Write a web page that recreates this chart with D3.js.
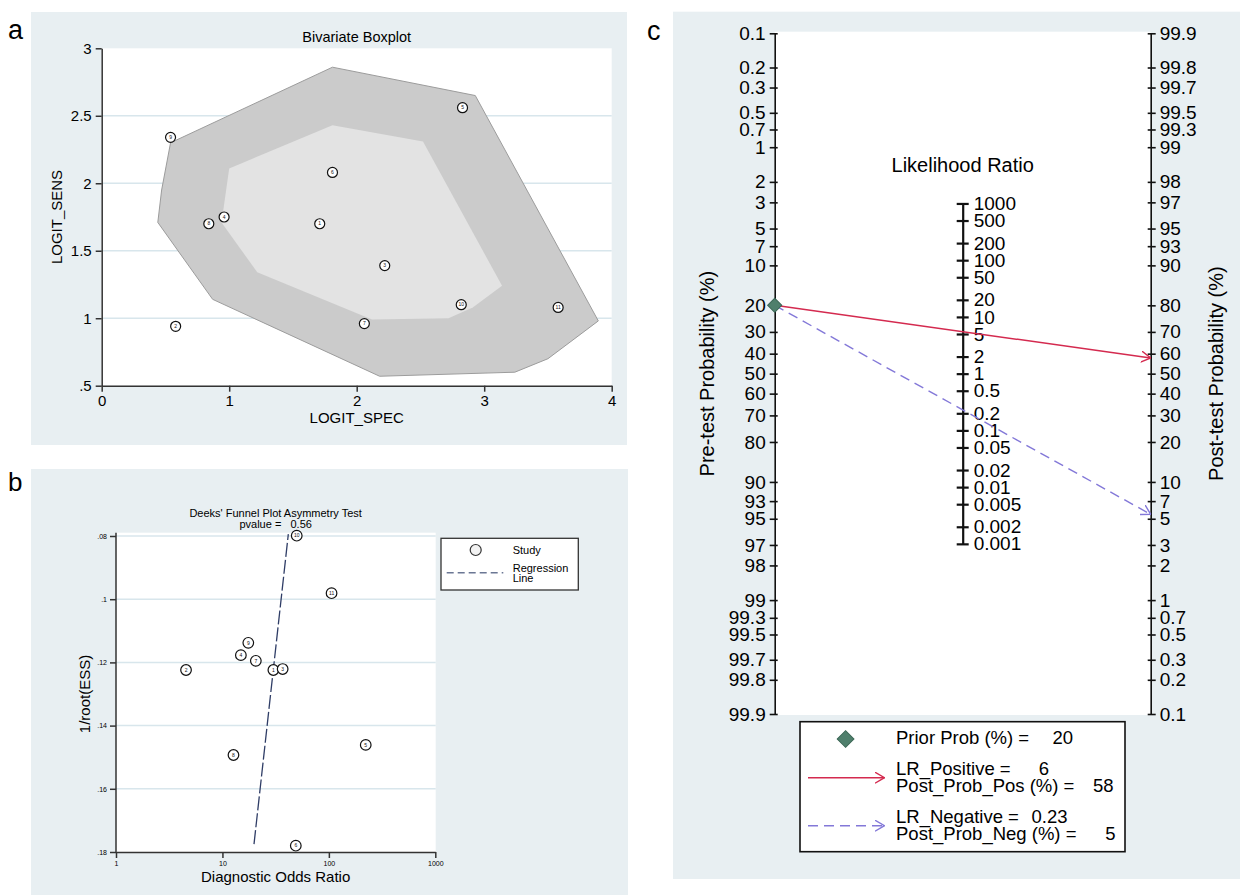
<!DOCTYPE html>
<html>
<head>
<meta charset="utf-8">
<script src="https://cdn.jsdelivr.net/npm/d3@7"></script>
<style>
body { margin: 0; background: #fff; }
svg { display: block; font-family: "Liberation Sans", Arial, sans-serif; }
</style>
</head>
<body>
<svg id="chart" width="1240" height="896"></svg>
<script>
// ---- panel a : bivariate boxplot
var studyIds = [1, 2, 3, 4, 5, 6, 7, 8, 9, 10, 11];
var logitSpec = [1.71, 0.58, 2.22, 0.96, 2.83, 1.81, 2.06, 0.84, 0.54, 2.82, 3.58];
var logitSens = [1.70, 0.94, 1.39, 1.75, 2.56, 2.08, 0.96, 1.70, 2.34, 1.10, 1.08];
var outerHullSpec = [0.54, 1.81, 2.93, 3.895, 3.50, 3.24, 2.18, 0.87, 0.44, 0.47];
var outerHullSens = [2.30, 2.86, 2.65, 0.98, 0.70, 0.60, 0.57, 1.14, 1.71, 1.95];
var innerHullSpec = [1.00, 1.81, 2.52, 3.14, 2.91, 2.72, 2.12, 1.22, 0.94];
var innerHullSens = [2.11, 2.43, 2.31, 1.24, 1.08, 1.00, 0.99, 1.34, 1.71];
var aXTicks = [0, 1, 2, 3, 4];
var aYTicks = [0.5, 1, 1.5, 2, 2.5, 3];
var aYTickLabels = [".5", "1", "1.5", "2", "2.5", "3"];

// ---- panel b : Deeks' funnel plot
var deeksDOR = [30.1, 4.55, 36.8, 14.9, 222, 48.9, 20.6, 12.7, 17.5, 49.9, 106];
var deeksInvRootESS = [0.1224, 0.1224, 0.1221, 0.1177, 0.1461, 0.178, 0.1195, 0.1493, 0.1138, 0.0799, 0.0981];
var regressionDOR = [19.8, 41.6];
var regressionInvRootESS = [0.1775, 0.0794];
var bXTicks = [1, 10, 100, 1000];
var bYTicks = [0.08, 0.1, 0.12, 0.14, 0.16, 0.18];
var bYTickLabels = [".08", ".1", ".12", ".14", ".16", ".18"];

// ---- panel c : Fagan nomogram
var priorProb = 20;
var lrPositive = 5.5;   // shown rounded as 6
var lrNegative = 0.23;
var preTicks = [0.1, 0.2, 0.3, 0.5, 0.7, 1, 2, 3, 5, 7, 10, 20, 30, 40, 50, 60, 70, 80, 90, 93, 95, 97, 98, 99, 99.3, 99.5, 99.7, 99.8, 99.9];
var postTicks = [99.9, 99.8, 99.7, 99.5, 99.3, 99, 98, 97, 95, 93, 90, 80, 70, 60, 50, 40, 30, 20, 10, 7, 5, 3, 2, 1, 0.7, 0.5, 0.3, 0.2, 0.1];
var lrTicks = [1000, 500, 200, 100, 50, 20, 10, 5, 2, 1, 0.5, 0.2, 0.1, 0.05, 0.02, 0.01, 0.005, 0.002, 0.001];

var svg = d3.select("#chart");
var panelBg = "#e8eff2";
var gridColor = "#d8e6ec";

showPanelA(svg);
showPanelB(svg);
showPanelC(svg);

function styleAxis(g, fontSize, color, width) {
    g.attr("font-family", null).attr("font-size", fontSize);
    g.select(".domain").attr("stroke", color).attr("stroke-width", width);
    g.selectAll(".tick line").attr("stroke", color).attr("stroke-width", width);
    g.selectAll(".tick text").attr("fill", "#000");
}

function showPanelA(svg) {
    var x = d3.scaleLinear().domain([0, 4]).range([101.7, 611.7]);
    var y = d3.scaleLinear().domain([0.5, 3]).range([385.7, 48.3]);
    var g = svg.append("g");

    g.append("rect").attr("x", 31).attr("y", 12).attr("width", 596).attr("height", 433).attr("fill", panelBg);
    g.append("rect").attr("x", x(0)).attr("y", y(3)).attr("width", x(4) - x(0)).attr("height", y(0.5) - y(3)).attr("fill", "#fff");

    g.selectAll("line.grid").data(aYTicks.slice(1, 5)).enter().append("line")
        .attr("class", "grid")
        .attr("x1", x(0)).attr("x2", x(4))
        .attr("y1", function (d) { return y(d); }).attr("y2", function (d) { return y(d); })
        .attr("stroke", gridColor).attr("stroke-width", 1.5);

    var hull = d3.line().x(function (d) { return x(d[0]); }).y(function (d) { return y(d[1]); }).curve(d3.curveLinearClosed);
    g.append("path").attr("d", hull(d3.zip(outerHullSpec, outerHullSens)))
        .attr("fill", "#cbcbcb").attr("stroke", "#9c9c9c").attr("stroke-width", 1);
    g.append("path").attr("d", hull(d3.zip(innerHullSpec, innerHullSens)))
        .attr("fill", "#e3e3e3");

    var pts = g.selectAll("g.pt").data(studyIds).enter().append("g").attr("class", "pt")
        .attr("transform", function (d, i) { return "translate(" + x(logitSpec[i]) + "," + y(logitSens[i]) + ")"; });
    pts.append("circle").attr("r", 5).attr("fill", "#fff").attr("stroke", "#111").attr("stroke-width", 1.2);
    pts.append("text").text(function (d) { return d; }).attr("text-anchor", "middle").attr("dy", "0.35em")
        .attr("font-size", 5).attr("fill", "#111");

    var yAxis = g.append("g").attr("transform", "translate(" + x(0) + ",0)")
        .call(d3.axisLeft(y).tickValues(aYTicks).tickFormat(function (d, i) { return aYTickLabels[i]; }).tickSize(6).tickSizeOuter(0).tickPadding(4));
    styleAxis(yAxis, 15, "#333", 1.5);
    var xAxis = g.append("g").attr("transform", "translate(0," + y(0.5) + ")")
        .call(d3.axisBottom(x).tickValues(aXTicks).tickFormat(d3.format("d")).tickSize(6).tickSizeOuter(0).tickPadding(4));
    styleAxis(xAxis, 15, "#333", 1.5);

    g.append("text").attr("x", (x(0) + x(4)) / 2).attr("y", 42).attr("text-anchor", "middle").attr("font-size", 14.5).text("Bivariate Boxplot");
    g.append("text").attr("x", (x(0) + x(4)) / 2).attr("y", 423).attr("text-anchor", "middle").attr("font-size", 15).text("LOGIT_SPEC");
    g.append("text").attr("transform", "translate(62," + (y(0.5) + y(3)) / 2 + ") rotate(-90)").attr("text-anchor", "middle").attr("font-size", 15).text("LOGIT_SENS");
    svg.append("text").attr("x", 8).attr("y", 39).attr("font-size", 27).text("a");
}

function showPanelB(svg) {
    var x = d3.scaleLog().domain([1, 1000]).range([116, 435.3]);
    var y = d3.scaleLinear().domain([0.08, 0.18]).range([536, 852]);
    var g = svg.append("g");

    g.append("rect").attr("x", 31).attr("y", 469).attr("width", 597).attr("height", 426).attr("fill", panelBg);
    g.append("rect").attr("x", x(1)).attr("y", 532.7).attr("width", 435.7 - x(1)).attr("height", y(0.18) - 532.7).attr("fill", "#fff");

    g.selectAll("line.grid").data(bYTicks.slice(0, 5)).enter().append("line")
        .attr("class", "grid")
        .attr("x1", x(1)).attr("x2", 435.7)
        .attr("y1", function (d) { return y(d); }).attr("y2", function (d) { return y(d); })
        .attr("stroke", gridColor).attr("stroke-width", 1.5);

    var reg = d3.line().x(function (d) { return x(d[0]); }).y(function (d) { return y(d[1]); });
    g.append("path").attr("d", reg(d3.zip(regressionDOR, regressionInvRootESS)))
        .attr("fill", "none").attr("stroke", "#2f3d66").attr("stroke-width", 1.3).attr("stroke-dasharray", "14,3");

    var pts = g.selectAll("g.pt").data(studyIds).enter().append("g").attr("class", "pt")
        .attr("transform", function (d, i) { return "translate(" + x(deeksDOR[i]) + "," + y(deeksInvRootESS[i]) + ")"; });
    pts.append("circle").attr("r", 5.3).attr("fill", "#fff").attr("stroke", "#111").attr("stroke-width", 1.2);
    pts.append("text").text(function (d) { return d; }).attr("text-anchor", "middle").attr("dy", "0.35em")
        .attr("font-size", 5).attr("fill", "#111");

    var yAxis = g.append("g").attr("transform", "translate(" + x(1) + ",0)")
        .call(d3.axisLeft(y).tickValues(bYTicks).tickFormat(function (d, i) { return bYTickLabels[i]; }).tickSize(6).tickSizeOuter(0).tickPadding(3));
    styleAxis(yAxis, 7, "#333", 1.5);
    yAxis.select(".domain").attr("d", "M0,532.7V" + y(0.18));
    var xAxis = g.append("g").attr("transform", "translate(0," + y(0.18) + ")")
        .call(d3.axisBottom(x).tickValues(bXTicks).tickFormat(d3.format("d")).tickSize(6).tickSizeOuter(0).tickPadding(3));
    styleAxis(xAxis, 7, "#333", 1.5);

    var cx = (x(1) + x(1000)) / 2;
    g.append("text").attr("x", cx).attr("y", 517).attr("text-anchor", "middle").attr("font-size", 11).text("Deeks' Funnel Plot Asymmetry Test");
    g.append("text").attr("x", cx).attr("y", 527.7).attr("text-anchor", "middle").attr("font-size", 11).attr("xml:space", "preserve").text("pvalue =   0.56");
    g.append("text").attr("x", cx).attr("y", 881.7).attr("text-anchor", "middle").attr("font-size", 15).text("Diagnostic Odds Ratio");
    g.append("text").attr("transform", "translate(90," + (y(0.08) + y(0.18)) / 2 + ") rotate(-90)").attr("text-anchor", "middle").attr("font-size", 15).text("1/root(ESS)");

    // legend
    var lg = g.append("g");
    lg.append("rect").attr("x", 441).attr("y", 538.3).attr("width", 137.3).attr("height", 51.7).attr("fill", "#fff").attr("stroke", "#333").attr("stroke-width", 1.3);
    lg.append("circle").attr("cx", 475.7).attr("cy", 550).attr("r", 5.5).attr("fill", "#f2f2f2").attr("stroke", "#333").attr("stroke-width", 1.2);
    lg.append("text").attr("x", 512.7).attr("y", 553.5).attr("font-size", 11).text("Study");
    lg.append("line").attr("x1", 446.7).attr("x2", 503.3).attr("y1", 572.7).attr("y2", 572.7)
        .attr("stroke", "#6b7794").attr("stroke-width", 1.5).attr("stroke-dasharray", "7,4");
    lg.append("text").attr("x", 512.7).attr("y", 571.5).attr("font-size", 11).text("Regression");
    lg.append("text").attr("x", 512.7).attr("y", 581.7).attr("font-size", 11).text("Line");

    svg.append("text").attr("x", 8).attr("y", 490.5).attr("font-size", 26).text("b");
}

function logit(p) { return Math.log(p / (1 - p)); }

function showPanelC(svg) {
    var leftX = 774.7, rightX = 1150.7, midX = (leftX + rightX) / 2;
    var pre = d3.scaleLinear().domain([logit(0.001), logit(0.999)]).range([33.3, 714]);
    var post = d3.scaleLinear().domain([logit(0.999), logit(0.001)]).range([33.3, 714]);
    var k = pre(1) - pre(0);
    var half = k / 2 * Math.log(1000);
    var lr = d3.scaleLog().domain([0.001, 1000]).range([pre(0) + half, pre(0) - half]);
    var g = svg.append("g");

    g.append("rect").attr("x", 673).attr("y", 11.7).attr("width", 567).attr("height", 867.3).attr("fill", panelBg);
    g.append("rect").attr("x", leftX).attr("y", 31.7).attr("width", rightX - leftX).attr("height", 715 - 31.7).attr("fill", "#fff");

    var defs = svg.append("defs");
    function marker(id, color) {
        defs.append("marker").attr("id", id).attr("viewBox", "0 0 10 12").attr("refX", 9.5).attr("refY", 6)
            .attr("markerWidth", 10).attr("markerHeight", 12).attr("markerUnits", "userSpaceOnUse").attr("orient", "auto")
            .append("path").attr("d", "M0,0.5L9.5,6L0,11.5").attr("fill", "none").attr("stroke", color).attr("stroke-width", 1.4);
    }
    var posColor = "#d42a4f", negColor = "#8378d8";
    marker("arrPos", posColor);
    marker("arrNeg", negColor);

    var leftAxis = g.append("g").attr("transform", "translate(" + leftX + ",0)")
        .call(d3.axisLeft(pre).tickValues(preTicks.map(function (p) { return logit(p / 100); }))
            .tickFormat(function (d, i) { return preTicks[i]; }).tickSize(5).tickSizeOuter(0).tickPadding(4));
    styleAxis(leftAxis, 19, "#111", 1.6);
    leftAxis.selectAll(".tick line").attr("x1", 3);

    var rightAxis = g.append("g").attr("transform", "translate(" + rightX + ",0)")
        .call(d3.axisRight(post).tickValues(postTicks.map(function (p) { return logit(p / 100); }))
            .tickFormat(function (d, i) { return postTicks[i]; }).tickSize(5).tickSizeOuter(0).tickPadding(4));
    styleAxis(rightAxis, 19, "#111", 1.6);
    rightAxis.selectAll(".tick line").attr("x1", -3);

    var midAxis = g.append("g").attr("transform", "translate(" + midX + ",0)")
        .call(d3.axisRight(lr).tickValues(lrTicks).tickFormat(function (d) { return String(d); }).tickSize(6).tickSizeOuter(0).tickPadding(5));
    styleAxis(midAxis, 19, "#111", 2.2);
    midAxis.selectAll(".tick line").attr("x1", -6);

    g.append("text").attr("x", midX).attr("y", 172).attr("text-anchor", "middle").attr("font-size", 20).text("Likelihood Ratio");
    g.append("text").attr("transform", "translate(713.5," + pre(0) + ") rotate(-90)").attr("text-anchor", "middle").attr("font-size", 20).text("Pre-test Probability (%)");
    g.append("text").attr("transform", "translate(1222.5," + pre(0) + ") rotate(-90)").attr("text-anchor", "middle").attr("font-size", 20).text("Post-test Probability (%)");

    // nomogram lines
    var priorOdds = priorProb / (100 - priorProb);
    var posProb = priorOdds * lrPositive / (1 + priorOdds * lrPositive);
    var negProb = priorOdds * lrNegative / (1 + priorOdds * lrNegative);
    var y0 = pre(logit(priorProb / 100));
    g.append("line").attr("x1", leftX).attr("y1", y0).attr("x2", rightX).attr("y2", post(logit(posProb)))
        .attr("stroke", posColor).attr("stroke-width", 1.5).attr("marker-end", "url(#arrPos)");
    g.append("line").attr("x1", leftX).attr("y1", y0).attr("x2", rightX).attr("y2", post(logit(negProb)))
        .attr("stroke", negColor).attr("stroke-width", 1.4).attr("stroke-dasharray", "10,6").attr("marker-end", "url(#arrNeg)");

    var diamond = d3.symbol().type(d3.symbolSquare);
    g.append("path").attr("d", diamond.size(100)()).attr("transform", "translate(" + leftX + "," + y0 + ") rotate(45)")
        .attr("fill", "#4f7f6c").attr("stroke", "#3b6655").attr("stroke-width", 1);

    // legend
    var lg = g.append("g");
    lg.append("rect").attr("x", 800).attr("y", 721.7).attr("width", 325).attr("height", 130).attr("fill", "#fff").attr("stroke", "#111").attr("stroke-width", 1.6);
    lg.append("path").attr("d", diamond.size(140)()).attr("transform", "translate(845.6,739) rotate(45)")
        .attr("fill", "#4f7f6c").attr("stroke", "#3b6655").attr("stroke-width", 1);
    lg.append("line").attr("x1", 808).attr("x2", 884.5).attr("y1", 777.7).attr("y2", 777.7)
        .attr("stroke", posColor).attr("stroke-width", 1.5).attr("marker-end", "url(#arrPos)");
    lg.append("line").attr("x1", 808).attr("x2", 884.5).attr("y1", 825.7).attr("y2", 825.7)
        .attr("stroke", negColor).attr("stroke-width", 1.4).attr("stroke-dasharray", "10,6").attr("marker-end", "url(#arrNeg)");

    var fmt0 = d3.format(".0f");
    var legendRows = [
        { label: "Prior Prob (%) =", value: String(priorProb), y: 744, vx: 1073 },
        { label: "LR_Positive =", value: fmt0(lrPositive), y: 775, vx: 1049 },
        { label: "Post_Prob_Pos (%) =", value: fmt0(posProb * 100), y: 792.3, vx: 1113.6 },
        { label: "LR_Negative =", value: String(lrNegative), y: 823.3, vx: 1067.5 },
        { label: "Post_Prob_Neg (%) =", value: fmt0(negProb * 100), y: 840, vx: 1115.5 }
    ];
    lg.selectAll("text.lab").data(legendRows).enter().append("text").attr("class", "lab")
        .attr("x", 896).attr("y", function (d) { return d.y; }).attr("font-size", 18.5).text(function (d) { return d.label; });
    lg.selectAll("text.val").data(legendRows).enter().append("text").attr("class", "val")
        .attr("x", function (d) { return d.vx; }).attr("y", function (d) { return d.y; }).attr("text-anchor", "end")
        .attr("font-size", 18.5).text(function (d) { return d.value; });

    svg.append("text").attr("x", 647).attr("y", 40).attr("font-size", 27).text("c");
}
</script>
</body>
</html>
